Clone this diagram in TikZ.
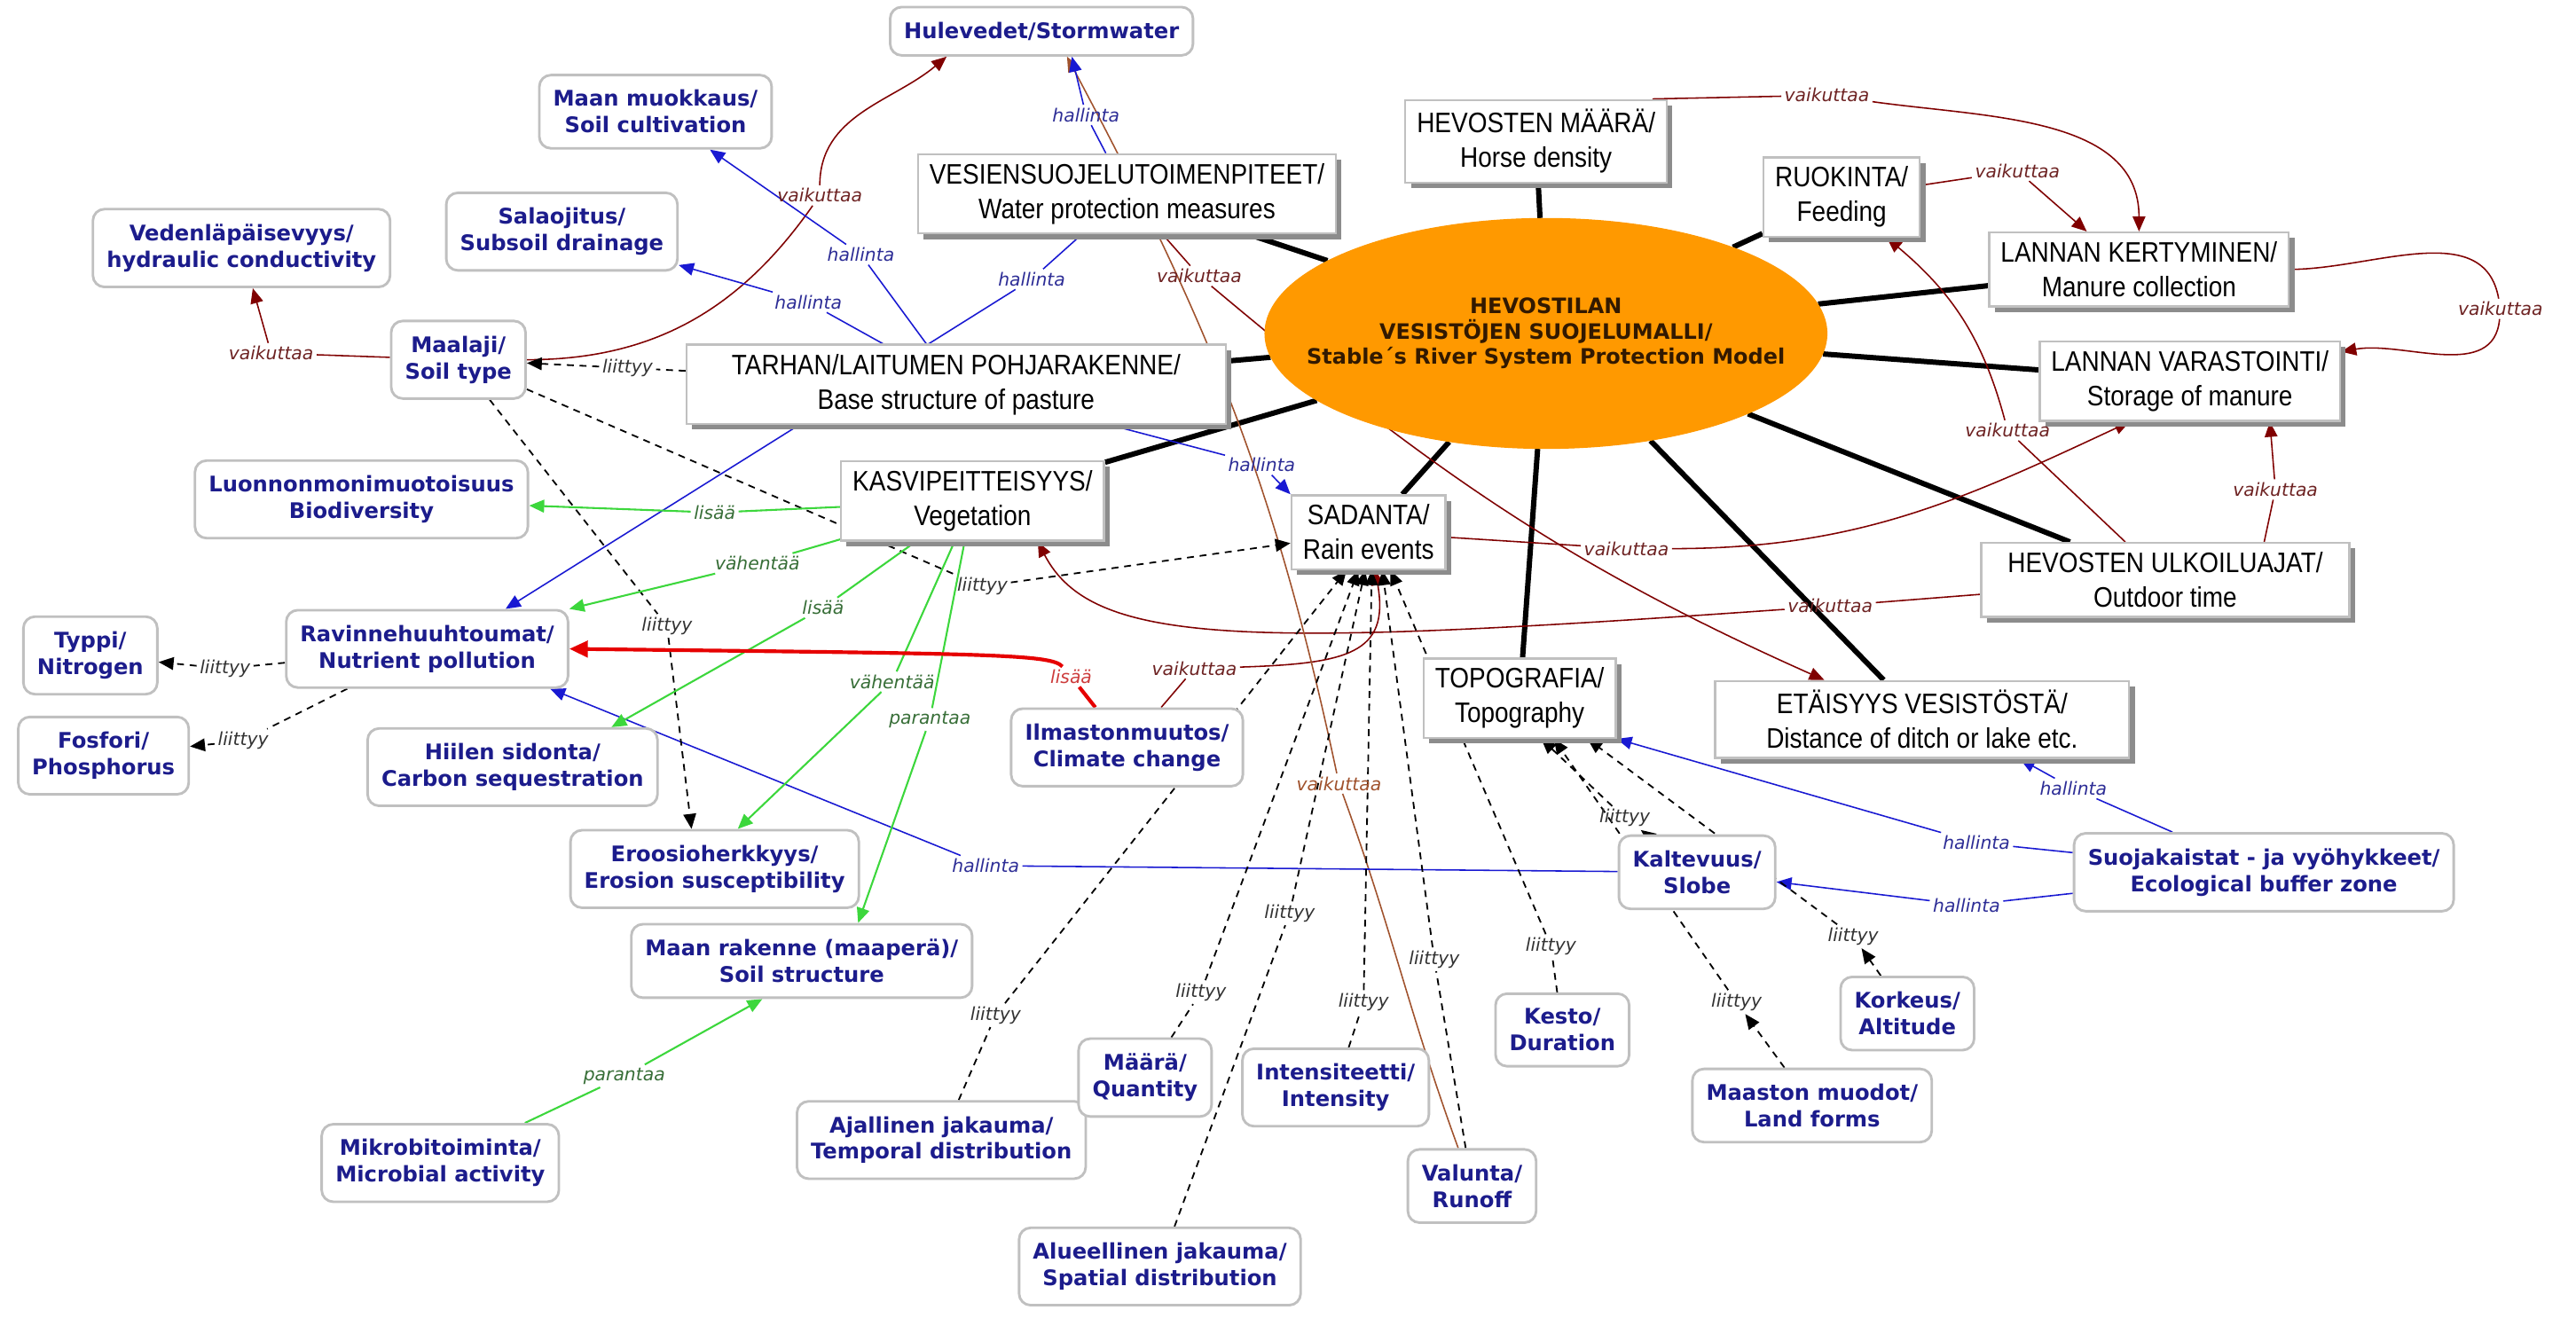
\documentclass[tikz,border=0pt]{standalone}
\usepackage{fontspec}
\setmainfont{DejaVu Sans}
\newfontfamily\capsfont{Liberation Sans}[FakeStretch=0.88]
\usepackage{xcolor}
\usepackage{tikz}
\usetikzlibrary{arrows.meta, positioning, shapes.geometric, shadows}
\definecolor{ModelOrange}{RGB}{255,153,0}
\definecolor{ModelText}{RGB}{50,25,0}
\definecolor{NodeBlue}{RGB}{28,28,140}
\definecolor{BoxGray}{RGB}{192,192,192}
\definecolor{ShadowGray}{RGB}{140,140,140}
\definecolor{LinkRed}{RGB}{128,0,0}
\definecolor{AffectText}{RGB}{110,35,35}
\definecolor{LinkBrown}{RGB}{160,82,45}
\definecolor{LinkBlue}{RGB}{25,25,210}
\definecolor{ControlText}{RGB}{45,45,150}
\definecolor{LinkGreen}{RGB}{60,215,60}
\definecolor{GreenText}{RGB}{55,110,55}
\definecolor{LinkRedBright}{RGB}{230,0,0}
\definecolor{RedText}{RGB}{205,60,60}

\pgfdeclarelayer{paper}
\pgfdeclarelayer{links}
\pgfsetlayers{paper,links,main}

\tikzset{
  model/.style={ellipse, fill=ModelOrange, draw=ModelOrange, minimum width=8.55cm,
    minimum height=3.5cm, inner sep=0pt},
  modeltext/.style={align=center, text=ModelText, inner sep=0pt,
    font=\bfseries\fontsize{9.2}{11}\selectfont},
  topic/.style={draw=BoxGray, line width=0.9pt, fill=white, align=center,
    font=\capsfont\fontsize{12.2}{15}\selectfont, inner xsep=5pt, inner ysep=4pt,
    drop shadow={shadow xshift=2.4pt, shadow yshift=-2.4pt, fill=ShadowGray, opacity=1}},
  concept/.style={draw=BoxGray, line width=1.1pt, rounded corners=5pt, fill=white,
    align=center, text=NodeBlue, font=\bfseries\fontsize{9.3}{11.5}\selectfont,
    inner xsep=6pt, inner ysep=6.5pt},
  phrase/.style={font=\itshape\fontsize{7.8}{9}\selectfont, inner sep=1.2pt},
  headed/.style={-{Triangle[length=6.5pt,width=5.5pt]}},
  bighead/.style={-{Triangle[length=8pt,width=7pt]}},
  spoke/.style={line width=2.3pt, black},
  affect/.style={draw=LinkRed, line width=0.6pt},
  runoff/.style={draw=LinkBrown, line width=0.6pt},
  control/.style={draw=LinkBlue, line width=0.6pt},
  relate/.style={draw=black, line width=0.7pt, dash pattern=on 3pt off 2.5pt},
  benefit/.style={draw=LinkGreen, line width=0.8pt},
  rise/.style={draw=LinkRedBright, line width=1.6pt}
}

\begin{document}
\begin{tikzpicture}[x=0.025cm, y=0.025cm]
  \begin{pgfonlayer}{paper}
    \fill[white] (0,0) rectangle (1568,-802);
  \end{pgfonlayer}
  \path[use as bounding box] (0,0) rectangle (1568,-802);

  % the model in the middle
  \node[model] (model) at (941,-203) {};
  \node[modeltext] (modeltitle) at (model.center) {HEVOSTILAN\\VESISTÖJEN SUOJELUMALLI/\\Stable´s River System Protection Model};

  % main topics
  \node[topic] (vesi)  at (686,-118)  {VESIENSUOJELUTOIMENPITEET/\\Water protection measures};
  \node[topic] (maara) at (935,-86)   {HEVOSTEN MÄÄRÄ/\\Horse density};
  \node[topic] (ruok)  at (1121,-120) {RUOKINTA/\\Feeding};
  \node[topic] (kert)  at (1302,-164) {LANNAN KERTYMINEN/\\Manure collection};
  \node[topic] (vara)  at (1333,-232) {LANNAN VARASTOINTI/\\Storage of manure};
  \node[topic, minimum width=8.2cm] (tarh) at (582,-234) {TARHAN/LAITUMEN POHJARAKENNE/\\Base structure of pasture};
  \node[topic] (kasv)  at (592,-305)  {KASVIPEITTEISYYS/\\Vegetation};
  \node[topic] (sad)   at (833,-324)  {SADANTA/\\Rain events};
  \node[topic, minimum width=5.6cm] (ulk) at (1318,-353) {HEVOSTEN ULKOILUAJAT/\\Outdoor time};
  \node[topic] (topo)  at (925,-425)  {TOPOGRAFIA/\\Topography};
  \node[topic, minimum width=6.3cm] (eta) at (1170,-438) {ETÄISYYS VESISTÖSTÄ/\\Distance of ditch or lake etc.};

  % concepts
  \node[concept] (hule)  at (634,-19)  {Hulevedet/Stormwater};
  \node[concept] (muok)  at (399,-68)  {Maan muokkaus/\\Soil cultivation};
  \node[concept] (sala)  at (342,-141) {Salaojitus/\\Subsoil drainage};
  \node[concept] (vede)  at (147,-151) {Vedenläpäisevyys/\\hydraulic conductivity};
  \node[concept] (maal)  at (279,-219) {Maalaji/\\Soil type};
  \node[concept] (bio)   at (220,-304) {Luonnonmonimuotoisuus\\Biodiversity};
  \node[concept] (ravi)  at (260,-395) {Ravinnehuuhtoumat/\\Nutrient pollution};
  \node[concept] (typp)  at (55,-399)  {Typpi/\\Nitrogen};
  \node[concept] (fosf)  at (63,-460)  {Fosfori/\\Phosphorus};
  \node[concept] (hiil)  at (312,-467) {Hiilen sidonta/\\Carbon sequestration};
  \node[concept] (eroo)  at (435,-529) {Eroosioherkkyys/\\Erosion susceptibility};
  \node[concept] (rake)  at (488,-585) {Maan rakenne (maaperä)/\\Soil structure};
  \node[concept] (mikr)  at (268,-708) {Mikrobitoiminta/\\Microbial activity};
  \node[concept] (ilma)  at (686,-455) {Ilmastonmuutos/\\Climate change};
  \node[concept] (ajal)  at (573,-694) {Ajallinen jakauma/\\Temporal distribution};
  \node[concept] (maarq) at (697,-656) {Määrä/\\Quantity};
  \node[concept] (alue)  at (706,-771) {Alueellinen jakauma/\\Spatial distribution};
  \node[concept] (inte)  at (813,-662) {Intensiteetti/\\Intensity};
  \node[concept] (valu)  at (896,-722) {Valunta/\\Runoff};
  \node[concept] (kest)  at (951,-627) {Kesto/\\Duration};
  \node[concept] (kalt)  at (1033,-531) {Kaltevuus/\\Slobe};
  \node[concept] (suoj)  at (1378,-531) {Suojakaistat - ja vyöhykkeet/\\Ecological buffer zone};
  \node[concept] (kork)  at (1161,-617) {Korkeus/\\Altitude};
  \node[concept] (maas)  at (1103,-673) {Maaston muodot/\\Land forms};

  % linking phrases
  \foreach \n/\x/\y in {v1/165/215, v2/499/119, v3/730/168, v4/1112/58, v5/1228/104,
      v6/1522/188, v7/1222/262, v8/1385/298, v9/990/334, v10/1114/369, v11/727/407}
    \node[phrase, text=AffectText] (\n) at (\x,-\y) {vaikuttaa};
  \node[phrase, text=LinkBrown] (v12) at (815,-477) {vaikuttaa};
  \foreach \n/\x/\y in {h1/661/70, h2/524/155, h3/492/184, h4/628/170, h5/768/283,
      h6/1262/480, h7/1203/513, h8/1197/551, h9/600/527}
    \node[phrase, text=ControlText] (\n) at (\x,-\y) {hallinta};
  \foreach \n/\x/\y in {l1/382/224, l2/406/381, l3/598/357, l4/137/407, l5/148/451,
      l6/606/618, l7/731/604, l8/785/556, l9/830/610, l10/873/584, l11/944/576,
      l12/989/498, l13/1057/610, l14/1128/570}
    \node[phrase, text=black!80] (\n) at (\x,-\y) {liittyy};
  \node[phrase, text=GreenText] (g1) at (435,-312) {lisää};
  \node[phrase, text=GreenText] (g2) at (461,-343) {vähentää};
  \node[phrase, text=GreenText] (g3) at (501,-370) {lisää};
  \node[phrase, text=GreenText] (g4) at (543,-415) {vähentää};
  \node[phrase, text=GreenText] (g5) at (566,-438) {parantaa};
  \node[phrase, text=GreenText] (g6) at (380,-655) {parantaa};
  \node[phrase, text=RedText] (r1) at (652,-412) {lisää};

  \begin{pgfonlayer}{links}
    % spokes
    \foreach \t in {vesi,maara,ruok,kert,vara,tarh,kasv,sad,ulk,topo,eta}
      \draw[spoke] (model) -- (\t);

    % vaikuttaa
    \draw[affect] (maal) -- (v1);
    \draw[affect,headed] (v1) -- (vede);
    \draw[affect] (maal.east) to[out=0,in=-125] (v2);
    \draw[affect,headed] (v2) to[out=90,in=-140] (hule.-165);
    \draw[affect] (vesi) -- (v3);
    \draw[affect,headed] (v3) to[out=-40,in=156] (eta.158);
    \draw[affect] (maara.20) -- (v4);
    \draw[affect,headed] (v4) to[out=-8,in=90] (kert.north);
    \draw[affect] (ruok) -- (v5);
    \draw[affect,headed] (v5) -- (kert.144);
    \draw[affect] (kert.east) to[out=0,in=100] (v6);
    \draw[affect,headed] (v6) to[out=-95,in=10] (vara.11);
    \draw[affect] (ulk) -- (v7);
    \draw[affect,headed] (v7) to[out=105,in=-40] (ruok.-42);
    \draw[affect] (ulk.21) -- (v8);
    \draw[affect,headed] (v8) -- (vara.-27);
    \draw[affect] (sad) -- (v9);
    \draw[affect,headed] (v9) to[out=0,in=-155] (vara.-146);
    \draw[affect] (ulk) -- (v10);
    \draw[affect,headed] (v10) .. controls (760,-394) and (665,-394) .. (kasv.-32);
    \draw[affect] (ilma) -- (v11);
    \draw[affect,headed] (v11) .. controls (820,-404) and (846,-398) .. (sad.-80);
    \draw[runoff] (valu) to[out=110,in=-70] (v12);
    \draw[runoff,headed] (v12) to[out=102,in=-62] (hule.-45);

    % hallinta
    \draw[control] (vesi) -- (h1);
    \draw[control,headed] (h1) -- (hule.-40);
    \draw[control] (tarh) -- (h2);
    \draw[control,headed] (h2) -- (muok);
    \draw[control] (tarh) -- (h3);
    \draw[control,headed] (h3) -- (sala);
    \draw[control] (vesi) -- (h4);
    \draw[control,headed] (h4) -- (ravi.27);
    \draw[control] (tarh) -- (h5);
    \draw[control,headed] (h5) -- (sad.north west);
    \draw[control] (suoj) -- (h6);
    \draw[control,headed] (h6) -- (eta.-22);
    \draw[control] (suoj) -- (h7);
    \draw[control,headed] (h7) -- (topo.south east);
    \draw[control] (suoj) -- (h8);
    \draw[control,headed] (h8) -- (kalt);
    \draw[control] (kalt) -- (h9);
    \draw[control,headed] (h9) -- (ravi.-18);

    % liittyy
    \draw[relate] (tarh) -- (l1);
    \draw[relate,headed] (l1) -- (maal);
    \draw[relate] (maal) -- (l2);
    \draw[relate,headed] (l2) -- (eroo.120);
    \draw[relate] (maal) -- (l3);
    \draw[relate,headed] (l3) -- (sad);
    \draw[relate] (ravi) -- (l4);
    \draw[relate,headed] (l4) -- (typp);
    \draw[relate] (ravi) -- (l5);
    \draw[relate,headed] (l5) -- (fosf);
    \foreach \s/\l/\a in {ajal/l6/-120, maarq/l7/-105, alue/l8/-95, inte/l9/-85,
        valu/l10/-70, kest/l11/-60}{
      \draw[relate] (\s) -- (\l);
      \draw[relate,headed] (\l) -- (sad.\a);
    }
    \draw[relate,headed] (kalt) -- (l12);
    \draw[relate,headed] (l12) -- (topo.-62);
    \draw[relate,headed] (maas) -- (l13);
    \draw[relate,headed] (l13) -- (topo.-50);
    \draw[relate,headed] (kork) -- (l14);
    \draw[relate,headed] (l14) -- (topo.-31);

    % vegetation effects
    \draw[benefit] (kasv) -- (g1);
    \draw[benefit,headed] (g1) -- (bio);
    \draw[benefit] (kasv) -- (g2);
    \draw[benefit,headed] (g2) -- (ravi.north east);
    \draw[benefit] (kasv) -- (g3);
    \draw[benefit,headed] (g3) -- (hiil.22);
    \draw[benefit] (kasv) -- (g4);
    \draw[benefit,headed] (g4) -- (eroo.60);
    \draw[benefit] (kasv) -- (g5);
    \draw[benefit,headed] (g5) -- (rake.34);
    \draw[benefit] (mikr) -- (g6);
    \draw[benefit,headed] (g6) -- (rake.-136);

    % climate change
    \draw[rise] (ilma) -- (r1);
    \draw[rise,bighead] (r1) .. controls (640,-398) and (600,-398) .. (ravi.east);
  \end{pgfonlayer}
\end{tikzpicture}
\end{document}
